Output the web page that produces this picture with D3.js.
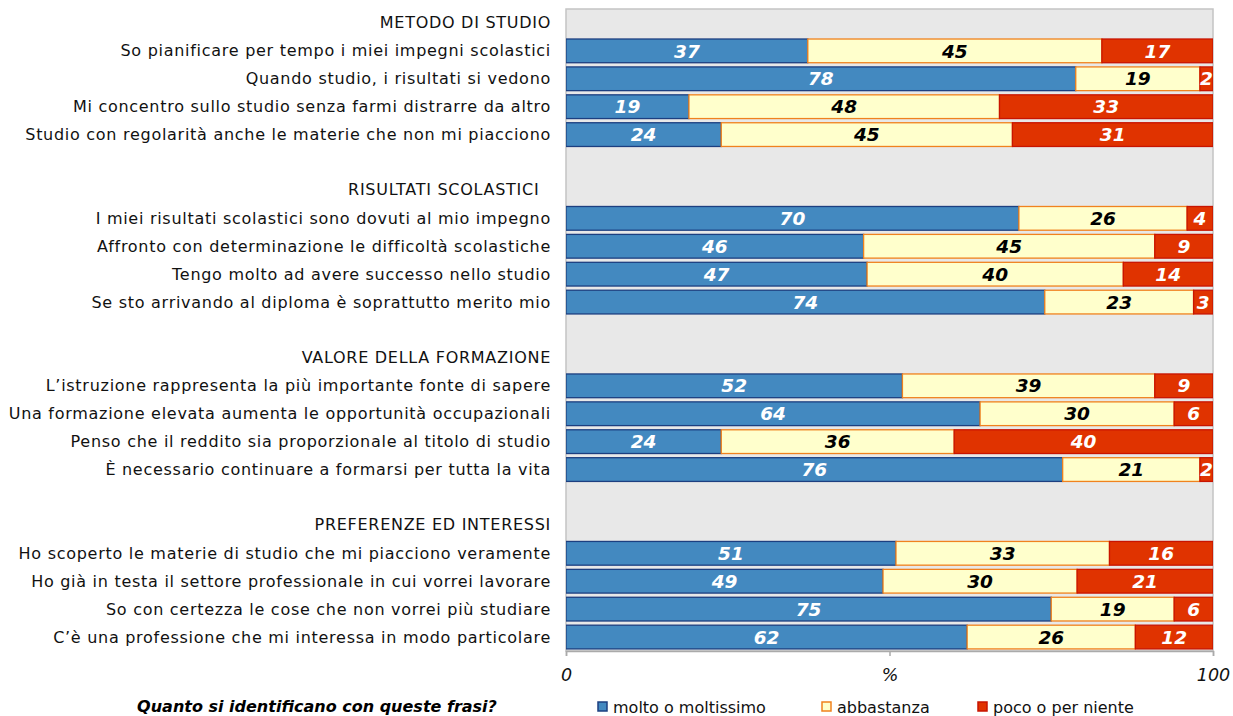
<!DOCTYPE html>
<html><head><meta charset="utf-8">
<script src="https://cdn.jsdelivr.net/npm/d3@7"></script>
<style>
html,body{margin:0;padding:0;background:#fff;}
svg{display:block;font-family:"DejaVu Sans",Verdana,sans-serif;}
</style></head>
<body>
<svg id="chart" width="1233" height="716"></svg>
<script>
// ---- data ----
const groups = ["METODO DI STUDIO", "RISULTATI SCOLASTICI  ", "VALORE DELLA FORMAZIONE", "PREFERENZE ED INTERESSI"];
const categories = [
  ["So pianificare per tempo i miei impegni scolastici",
   "Quando studio, i risultati si vedono",
   "Mi concentro sullo studio senza farmi distrarre da altro",
   "Studio con regolarità anche le materie che non mi piacciono"],
  ["I miei risultati scolastici sono dovuti al mio impegno",
   "Affronto con determinazione le difficoltà scolastiche",
   "Tengo molto ad avere successo nello studio",
   "Se sto arrivando al diploma è soprattutto merito mio"],
  ["L’istruzione rappresenta la più importante fonte di sapere",
   "Una formazione elevata aumenta le opportunità occupazionali",
   "Penso che il reddito sia proporzionale al titolo di studio",
   "È necessario continuare a formarsi per tutta la vita"],
  ["Ho scoperto le materie di studio che mi piacciono veramente",
   "Ho già in testa il settore professionale in cui vorrei lavorare",
   "So con certezza le cose che non vorrei più studiare",
   "C’è una professione che mi interessa in modo particolare"]
];
const seriesNames = ["molto o moltissimo", "abbastanza", "poco o per niente"];
const molto =      [37, 78, 19, 24,  70, 46, 47, 74,  52, 64, 24, 76,  51, 49, 75, 62];
const abbastanza = [45, 19, 48, 45,  26, 45, 40, 23,  39, 30, 36, 21,  33, 30, 19, 26];
const poco =       [17,  2, 33, 31,   4,  9, 14,  3,   9,  6, 40,  2,  16, 21,  6, 12];
const axisTicks = [0, 50, 100];
const axisTickLabels = ["0", "%", "100"];
const axisTitle = "Quanto si identificano con queste frasi?";

// ---- styles ----
const fills = ["#4389c0", "#ffffcc", "#e03300"];
const strokes = ["#1c3f80", "#f0821e", "#c81400"];
const labelColors = ["#ffffff", "#000000", "#ffffff"];

// ---- build rows ----
const rows = [];
let k = 0;
groups.forEach((g, gi) => {
  if (gi > 0) rows.push({key: "blank" + gi, label: "", type: "blank"});
  rows.push({key: "hdr" + gi, label: g, type: "header"});
  categories[gi].forEach(c => {
    rows.push({key: "r" + k, label: c, type: "bar", idx: k,
      v: {molto: molto[k], abbastanza: abbastanza[k], poco: poco[k]}});
    k++;
  });
});
const barRows = rows.filter(r => r.type === "bar");

const svg = d3.select("#chart");
const m = {left: 566, right: 1213, top: 9, bottom: 651};

const y = d3.scaleBand().domain(rows.map(r => r.key)).range([m.top, m.bottom]).paddingInner(0).paddingOuter(0);
const x = d3.scaleLinear().domain([0, 1]).range([m.left, m.right]);
const xAxisScale = d3.scaleLinear().domain([0, 100]).range([m.left, m.right]);

svg.append("rect").attr("x", m.left).attr("y", m.top)
  .attr("width", m.right - m.left).attr("height", m.bottom - m.top)
  .attr("fill", "#e8e8e8").attr("stroke", "#c4c4c4").attr("stroke-width", 1.5);

svg.append("clipPath").attr("id", "plotclip").append("rect")
  .attr("x", m.left).attr("y", m.top).attr("width", m.right - m.left).attr("height", m.bottom - m.top);

const keys = ["molto", "abbastanza", "poco"];
const stack = d3.stack().keys(keys).offset(d3.stackOffsetExpand);
const stacked = stack(barRows.map(r => Object.assign({key: r.key}, r.v)));

const barH = y.bandwidth() * 0.85;
const barOff = (y.bandwidth() - barH) / 2;

const gBars = svg.append("g").attr("clip-path", "url(#plotclip)");
stacked.forEach((layer, li) => {
  gBars.append("g").selectAll("rect").data(layer).join("rect")
    .attr("x", d => x(d[0]))
    .attr("y", d => y(d.data.key) + barOff)
    .attr("width", d => x(d[1]) - x(d[0]))
    .attr("height", barH)
    .attr("fill", fills[li])
    .attr("stroke", strokes[li])
    .attr("stroke-width", 1.3);
});
stacked.forEach((layer, li) => {
  gBars.append("g").selectAll("text").data(layer).join("text")
    .attr("x", d => (x(d[0]) + x(d[1])) / 2)
    .attr("y", d => y(d.data.key) + y.bandwidth() / 2)
    .attr("dy", "0.36em")
    .attr("text-anchor", "middle")
    .attr("font-size", 18.5)
    .attr("font-weight", "bold")
    .attr("font-style", "italic")
    .attr("fill", labelColors[li])
    .text(d => d.data[keys[li]]);
});

// category labels
svg.append("g").selectAll("text").data(rows.filter(r => r.type !== "blank")).join("text")
  .attr("x", 551)
  .attr("y", r => y(r.key) + y.bandwidth() / 2 + (r.type === "header" ? -1 : 0))
  .attr("dy", "0.35em")
  .attr("text-anchor", "end")
  .attr("font-size", 16)
  .attr("letter-spacing", "0.72px")
  .attr("fill", "#111")
  .style("white-space", "pre")
  .text(r => r.label);

// x axis
const axisG = svg.append("g").attr("transform", `translate(0,${m.bottom})`)
  .call(d3.axisBottom(xAxisScale).tickValues(axisTicks).tickSize(5).tickFormat((d, i) => axisTickLabels[i]));
axisG.select(".domain").attr("stroke", "#aaaaaa").attr("stroke-width", 1.5);
axisG.selectAll(".tick line").attr("stroke", "#aaaaaa").attr("stroke-width", 1.5);
axisG.selectAll(".tick text")
  .attr("font-family", "'DejaVu Sans',Verdana,sans-serif")
  .attr("font-size", 17.5).attr("font-style", "italic").attr("fill", "#111").attr("y", 18);

// axis title
svg.append("text").attr("x", 317).attr("y", 712).attr("text-anchor", "middle")
  .attr("font-size", 16).attr("font-weight", "bold").attr("font-style", "italic").attr("fill", "#000")
  .text(axisTitle);

// legend
const legendX = [598, 822, 978];
const lg = svg.append("g").selectAll("g").data(seriesNames).join("g")
  .attr("transform", (d, i) => `translate(${legendX[i]},702)`);
lg.append("rect").attr("width", 9).attr("height", 9)
  .attr("fill", (d, i) => fills[i]).attr("stroke", (d, i) => strokes[i]).attr("stroke-width", 1.5);
lg.append("text").attr("x", 15).attr("y", 10.5).attr("font-size", 16).attr("fill", "#111").text(d => d);
</script>
</body></html>
